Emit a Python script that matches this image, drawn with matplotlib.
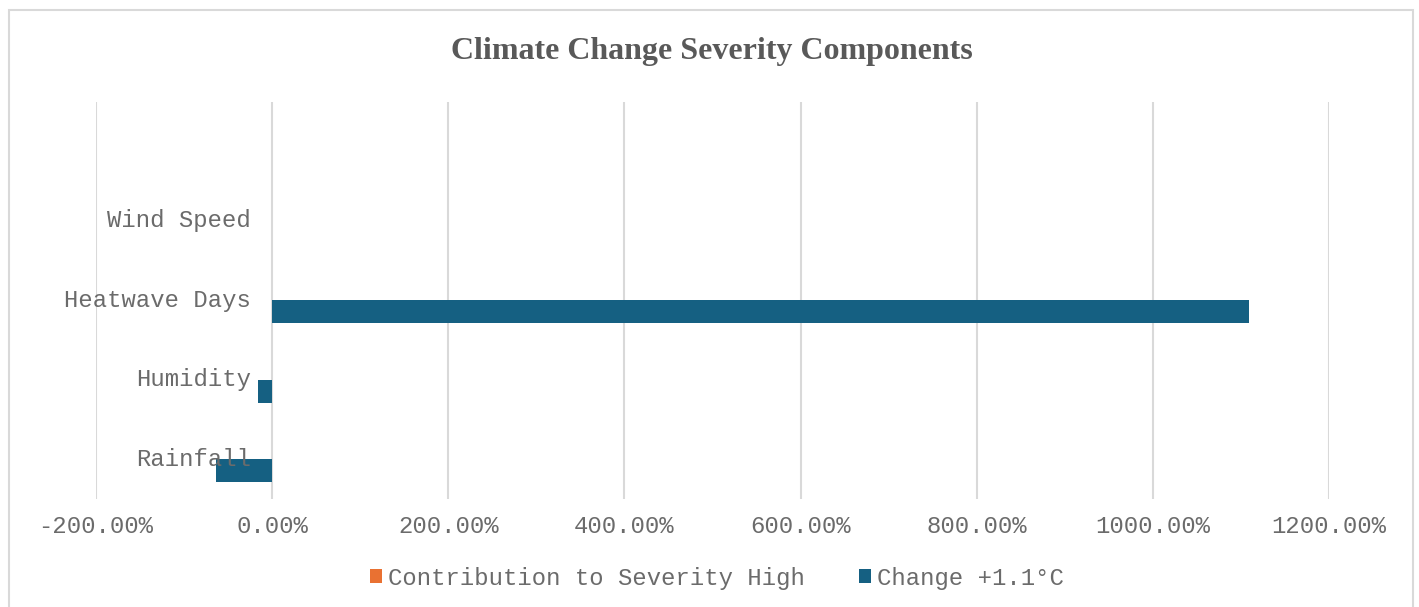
import numpy as np
import matplotlib.pyplot as plt
from matplotlib.patches import Rectangle
from matplotlib.ticker import FuncFormatter

# Data (percent change per component)
categories = ["Rainfall", "Humidity", "Heatwave Days", "Wind Speed", ""]
contribution_high = [0.0, 0.0, 0.0, 0.0, np.nan]
change_11 = [-63.5, -16.0, 1109.0, 0.0, np.nan]
xticks = [-200, 0, 200, 400, 600, 800, 1000, 1200]

grey = "#595959"
label_grey = "#6B6B6B"
blue = "#156082"
orange = "#E97132"
mono = "Liberation Mono"
fs = 17.2

W, H = 1419, 607
fig = plt.figure(figsize=(W / 100, H / 100), dpi=100)
ax = fig.add_axes([96 / W, 1 - 499 / H, (1329 - 96) / W, (499 - 101.5) / H])

# Chart frame
fig.patches.append(Rectangle((9 / W, -0.05), (1413 - 9) / W, 1.05 - 10 / H,
                             transform=fig.transFigure, fill=False,
                             edgecolor="#D9D9D9", linewidth=1.5, zorder=0))

y = np.arange(len(categories))
h = 0.29
ax.barh(y + h / 2, contribution_high, height=h, color=orange,
        label="Contribution to Severity High", zorder=3)
ax.barh(y - h / 2, change_11, height=h, color=blue,
        label="Change +1.1°C", zorder=3)

ax.set_xlim(-200, 1200)
ax.set_ylim(-0.5, len(categories) - 0.5)
ax.set_xticks(xticks)
ax.xaxis.set_major_formatter(FuncFormatter(lambda v, p: f"{v:.2f}%"))
ax.tick_params(axis="x", length=0, pad=11.5, labelsize=fs, labelcolor=label_grey)
for t in ax.get_xticklabels():
    t.set_fontfamily(mono)
ax.set_yticks([])
ax.grid(axis="x", color="#D9D9D9", linewidth=1.5, zorder=0)
for s in ax.spines.values():
    s.set_visible(False)

# Category labels sit beside the zero axis
for yi, name in zip(y, categories):
    ax.annotate(name, (0, yi), xytext=(-21, 0), textcoords="offset pixels",
                ha="right", va="center", fontsize=fs, color=label_grey,
                family=mono, zorder=5)

fig.text(712 / W, 1 - 52 / H, "Climate Change Severity Components",
         ha="center", va="center", fontsize=23, fontweight="bold",
         color=grey, family="Liberation Serif")

handles, labels = ax.get_legend_handles_labels()
leg = fig.legend(handles, labels, loc="center", bbox_to_anchor=(717 / W, 1 - 578 / H),
                 ncol=2, frameon=False, handlelength=0.5, handleheight=0.5,
                 handletextpad=0.25, columnspacing=2.3,
                 prop={"family": mono, "size": fs})
for t in leg.get_texts():
    t.set_color(label_grey)

fig.savefig("out.png", dpi=100)
